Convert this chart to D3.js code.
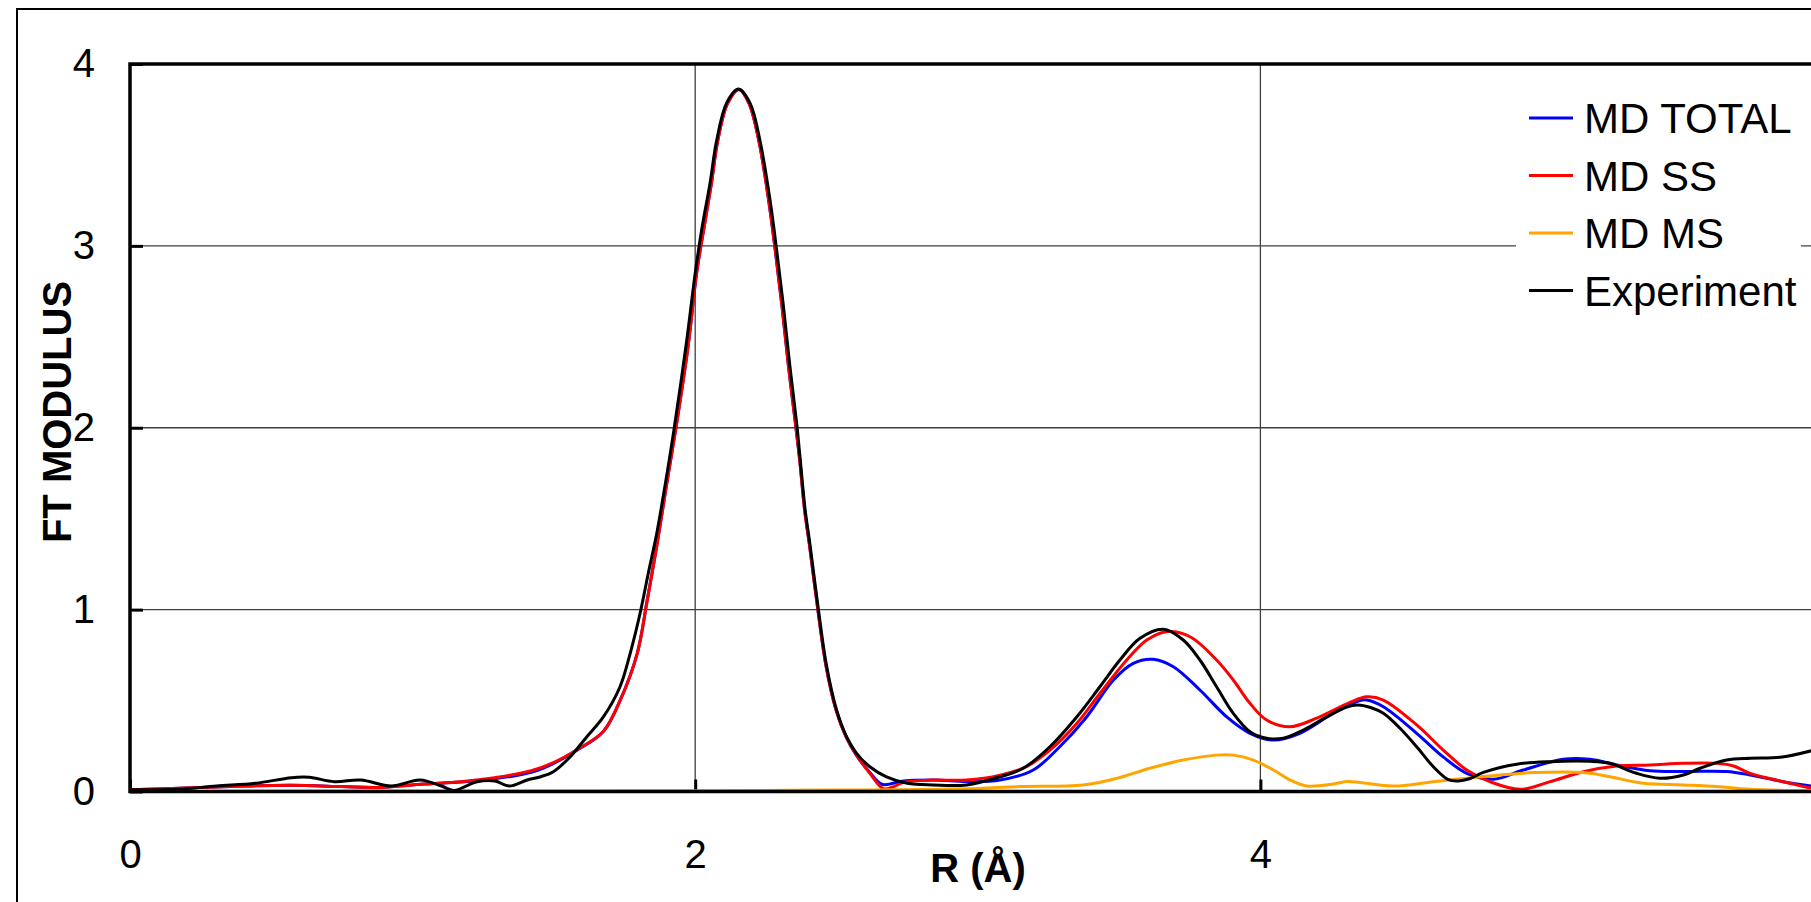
<!DOCTYPE html>
<html>
<head>
<meta charset="utf-8">
<script src="https://cdn.jsdelivr.net/npm/d3@7"></script>
<style>
  html, body { margin: 0; padding: 0; background: #fff; }
  svg { display: block; }
  text { font-family: "Liberation Sans", Arial, sans-serif; }
</style>
</head>
<body>
<svg id="chart" width="1811" height="902"></svg>
<script>
// ---------- DATA (R in Å, FT modulus) ----------
const xTicks = [0, 2, 4];
const yTicks = [0, 1, 2, 3, 4];
const seriesNames = ["MD TOTAL", "MD SS", "MD MS", "Experiment"];
const seriesColors = ["#0000ff", "#ff0000", "#ffa500", "#000000"];

const mdTotal = [
  [0,0.01],[0.22,0.02],[0.41,0.03],[0.57,0.034],[0.75,0.027],[0.87,0.022],[1.04,0.041],[1.17,0.052],
  [1.29,0.07],[1.42,0.105],[1.50,0.155],[1.58,0.225],[1.675,0.33],[1.734,0.50],[1.795,0.76],[1.83,1.05],
  [1.864,1.35],[1.90,1.70],[1.936,2.04],[1.975,2.45],[2.005,2.85],[2.03,3.09],[2.057,3.34],[2.08,3.58],
  [2.115,3.785],[2.155,3.86],[2.19,3.785],[2.225,3.58],[2.26,3.25],[2.283,2.98],[2.307,2.67],[2.33,2.34],
  [2.355,2.02],[2.37,1.82],[2.387,1.55],[2.404,1.36],[2.434,1.0],[2.463,0.69],[2.498,0.45],[2.534,0.30],
  [2.57,0.20],[2.615,0.11],[2.66,0.04],[2.70,0.045],[2.725,0.055],[2.843,0.063],[2.96,0.055],[3.079,0.063],
  [3.196,0.118],[3.29,0.246],[3.385,0.41],[3.48,0.613],[3.55,0.705],[3.62,0.727],[3.692,0.686],[3.786,0.558],
  [3.881,0.41],[3.963,0.32],[4.046,0.283],[4.14,0.32],[4.258,0.43],[4.352,0.50],[4.376,0.503],[4.435,0.466],
  [4.553,0.32],[4.647,0.19],[4.73,0.10],[4.824,0.067],[4.93,0.118],[5.072,0.177],[5.166,0.177],[5.261,0.146],
  [5.379,0.114],[5.497,0.11],[5.65,0.11],[5.733,0.091],[5.85,0.054],[5.95,0.03]
];

const mdSS = [
  [0,0.01],[0.22,0.02],[0.41,0.03],[0.57,0.034],[0.75,0.027],[0.87,0.022],[1.04,0.041],[1.17,0.054],
  [1.29,0.076],[1.42,0.114],[1.50,0.16],[1.58,0.228],[1.675,0.33],[1.734,0.50],[1.795,0.76],[1.83,1.05],
  [1.864,1.35],[1.90,1.70],[1.936,2.04],[1.975,2.45],[2.005,2.85],[2.03,3.09],[2.057,3.34],[2.08,3.58],
  [2.115,3.785],[2.155,3.86],[2.19,3.785],[2.225,3.58],[2.26,3.25],[2.283,2.98],[2.307,2.67],[2.33,2.34],
  [2.355,2.02],[2.37,1.82],[2.387,1.55],[2.404,1.36],[2.434,1.0],[2.463,0.69],[2.498,0.45],[2.534,0.30],
  [2.571,0.20],[2.618,0.10],[2.666,0.015],[2.70,0.025],[2.737,0.05],[2.843,0.063],[2.96,0.063],[3.079,0.09],
  [3.172,0.137],[3.255,0.227],[3.35,0.374],[3.432,0.539],[3.527,0.723],[3.598,0.833],[3.668,0.879],[3.751,0.851],
  [3.845,0.723],[3.904,0.613],[3.963,0.485],[4.022,0.393],[4.105,0.356],[4.199,0.403],[4.317,0.49],[4.376,0.521],
  [4.435,0.503],[4.553,0.366],[4.647,0.228],[4.73,0.118],[4.812,0.054],[4.919,0.012],[5.025,0.054],[5.143,0.109],
  [5.261,0.14],[5.379,0.146],[5.497,0.155],[5.615,0.155],[5.674,0.14],[5.733,0.10],[5.85,0.054],[5.95,0.018]
];

const mdMS = [
  [0.27,0.002],[1.0,0.003],[2.0,0.004],[2.25,0.006],[2.5,0.008],[2.725,0.01],[3.02,0.018],[3.149,0.027],
  [3.373,0.036],[3.491,0.072],[3.609,0.128],[3.727,0.173],[3.845,0.2],[3.904,0.2],[3.975,0.173],[4.046,0.118],
  [4.105,0.063],[4.164,0.03],[4.258,0.041],[4.305,0.055],[4.352,0.05],[4.47,0.03],[4.612,0.054],[4.73,0.073],
  [4.848,0.091],[4.966,0.104],[5.143,0.104],[5.237,0.081],[5.355,0.045],[5.497,0.036],[5.615,0.027],[5.733,0.012],
  [5.95,0.005]
];

const experiment = [
  [0,0.01],[0.166,0.012],[0.306,0.03],[0.445,0.045],[0.571,0.076],[0.634,0.078],[0.723,0.054],[0.817,0.063],
  [0.925,0.03],[1.026,0.063],[1.102,0.03],[1.146,0.006],[1.228,0.054],[1.291,0.058],[1.342,0.03],[1.405,0.063],
  [1.45,0.08],[1.498,0.109],[1.557,0.19],[1.616,0.30],[1.675,0.41],[1.734,0.576],[1.77,0.76],[1.805,0.98],
  [1.834,1.2],[1.864,1.42],[1.893,1.68],[1.923,1.97],[1.97,2.48],[2.0,2.85],[2.023,3.09],[2.052,3.34],
  [2.076,3.58],[2.111,3.785],[2.153,3.862],[2.194,3.785],[2.229,3.58],[2.265,3.25],[2.288,2.98],[2.312,2.67],
  [2.335,2.34],[2.359,2.025],[2.372,1.82],[2.389,1.55],[2.406,1.36],[2.436,1.0],[2.465,0.69],[2.5,0.45],
  [2.536,0.30],[2.571,0.21],[2.618,0.136],[2.677,0.08],[2.75,0.045],[2.843,0.036],[2.96,0.036],[3.079,0.081],
  [3.161,0.128],[3.255,0.246],[3.35,0.41],[3.432,0.576],[3.503,0.723],[3.574,0.842],[3.656,0.892],[3.727,0.833],
  [3.786,0.723],[3.845,0.576],[3.904,0.43],[3.963,0.329],[4.022,0.293],[4.081,0.293],[4.14,0.329],[4.235,0.41],
  [4.30,0.462],[4.345,0.476],[4.39,0.462],[4.435,0.43],[4.494,0.348],[4.553,0.246],[4.612,0.136],[4.665,0.065],
  [4.70,0.058],[4.74,0.07],[4.789,0.105],[4.907,0.15],[5.025,0.164],[5.166,0.166],[5.237,0.155],[5.331,0.10],
  [5.414,0.073],[5.497,0.091],[5.556,0.128],[5.65,0.173],[5.733,0.183],[5.839,0.188],[5.95,0.224]
];

const seriesData = [mdTotal, mdSS, mdMS, experiment];

// ---------- LAYOUT ----------
const svg = d3.select("#chart");
const pLeft = 130, pTop = 64, pBottom = 791.5;
const x = d3.scaleLinear().domain([0, 6]).range([pLeft, pLeft + 6 * 282.6]);
const y = d3.scaleLinear().domain([0, 4]).range([pBottom, pTop]);
const pRight = x(6);

// outer frame
svg.append("rect").attr("x", 17).attr("y", 9).attr("width", 1900).attr("height", 1000)
  .attr("fill", "none").attr("stroke", "#000").attr("stroke-width", 2);

// gridlines
const grid = svg.append("g").attr("stroke", "#404040").attr("stroke-width", 1.3);
grid.selectAll("line.h").data(yTicks.filter(d => d > 0 && d < 4)).join("line")
  .attr("class", "h")
  .attr("x1", pLeft).attr("x2", pRight).attr("y1", d => y(d)).attr("y2", d => y(d));
grid.selectAll("line.v").data(xTicks.filter(d => d > 0)).join("line")
  .attr("class", "v")
  .attr("x1", d => x(d)).attr("x2", d => x(d)).attr("y1", pTop).attr("y2", pBottom);

// axes (ticks inward)
const yAxis = d3.axisLeft(y).tickValues(yTicks).tickSize(-13).tickPadding(35).tickFormat(d3.format("d"));
const gy = svg.append("g").attr("transform", `translate(${pLeft},0)`).call(yAxis);
const xAxis = d3.axisBottom(x).tickValues(xTicks).tickSize(-12).tickPadding(48).tickFormat(d3.format("d"));
const gx = svg.append("g").attr("transform", `translate(0,${pBottom})`).call(xAxis);
[gx, gy].forEach(g => {
  g.select(".domain").remove();
  g.selectAll(".tick line").attr("stroke", "#000").attr("stroke-width", 3);
  g.selectAll(".tick text").attr("font-size", 40).attr("fill", "#000")
    .attr("font-family", "'Liberation Sans', Arial, sans-serif");
});

// legend background (covers gridline)
svg.append("rect").attr("x", 1516).attr("y", 88).attr("width", 285).attr("height", 232).attr("fill", "#fff");

// series
const line = d3.line().x(d => x(d[0])).y(d => y(d[1])).curve(d3.curveCatmullRom.alpha(0.5));
const plot = svg.append("g");
plot.selectAll("path").data(seriesData).join("path")
  .attr("d", line).attr("fill", "none")
  .attr("stroke", (d, i) => seriesColors[i]).attr("stroke-width", 3)
  .attr("stroke-linejoin", "round");

// plot frame
svg.append("path")
  .attr("d", `M${pRight},${pTop} L${pLeft},${pTop} L${pLeft},${pBottom} L${pRight},${pBottom}`)
  .attr("fill", "none").attr("stroke", "#000").attr("stroke-width", 3.5);

// legend
const leg = svg.append("g");
const legRows = seriesNames.map((n, i) => ({ n, c: seriesColors[i], yc: 118 + i * 57.5 }));
leg.selectAll("line").data(legRows).join("line")
  .attr("x1", 1529).attr("x2", 1573).attr("y1", d => d.yc).attr("y2", d => d.yc)
  .attr("stroke", d => d.c).attr("stroke-width", 3);
leg.selectAll("text").data(legRows).join("text")
  .attr("x", 1584).attr("y", d => d.yc + 15).attr("font-size", 42).attr("fill", "#000")
  .text(d => d.n);

// axis titles
svg.append("text").attr("x", 978).attr("y", 882).attr("text-anchor", "middle")
  .attr("font-size", 40).attr("font-weight", "bold").text("R (Å)");
svg.append("text").attr("transform", "translate(71,412) rotate(-90)").attr("text-anchor", "middle")
  .attr("font-size", 40).attr("font-weight", "bold").text("FT MODULUS");
</script>
</body>
</html>
